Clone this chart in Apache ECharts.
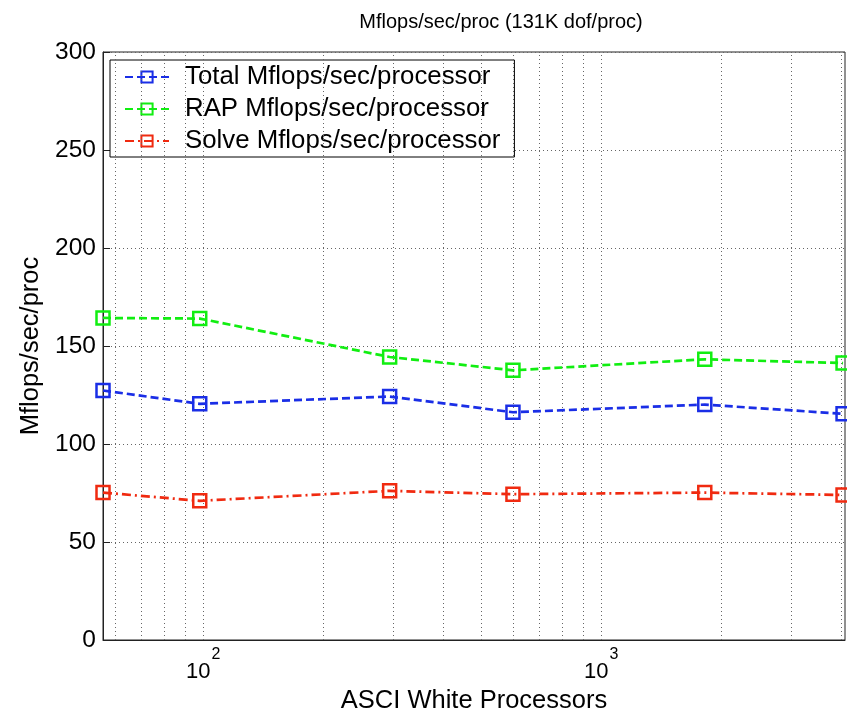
<!DOCTYPE html>
<html><head><meta charset="utf-8">
<script src="https://cdn.jsdelivr.net/npm/echarts@6/dist/echarts.min.js"></script>
<style>html,body{margin:0;padding:0;background:#fff}#c{width:847px;height:714px}</style>
</head><body><div id="c"></div>
<script>
const processors = [56, 98, 294, 600, 1820, 4050];
const totalMflops = [127.3, 120.5, 124.2, 116.2, 120.1, 115.4];
const rapMflops = [164.3, 164.0, 144.4, 137.6, 143.2, 141.3];
const solveMflops = [75.2, 71.0, 76.1, 74.4, 75.2, 74.0];
const seriesNames = ['Total Mflops/sec/processor', 'RAP Mflops/sec/processor', 'Solve Mflops/sec/processor'];
const xGridValues = [60, 70, 80, 90, 100, 200, 300, 400, 500, 600, 700, 800, 900, 1000, 2000, 3000, 4000];
const yTicks = [0, 50, 100, 150, 200, 250, 300];

const FONT = 'Liberation Sans';
const chart = echarts.init(document.getElementById('c'));
function mk(name, data, color, dash, withGrid) {
  const s = {
    name, type: 'line', data: processors.map((p, i) => [p, data[i]]),
    symbol: 'rect', symbolSize: 13, showSymbol: true,
    lineStyle: {color, width: 2.7, type: dash},
    itemStyle: {color: 'rgba(255,255,255,0)', borderColor: color, borderWidth: 2.5},
    emphasis: {disabled: true}, animation: false, z: 5
  };
  if (withGrid) {
    s.markLine = {
      silent: true, symbol: 'none', label: {show: false}, animation: false,
      lineStyle: {color: '#666', width: 1, type: [1, 3]},
      data: xGridValues.map(v => ({xAxis: v}))
    };
  }
  return s;
}
chart.setOption({
  animation: false,
  title: {text: 'Mflops/sec/proc (131K dof/proc)', left: 496, top: 7, textAlign: 'center',
    textStyle: {fontFamily: FONT, fontSize: 20, fontWeight: 'normal', color: '#000'}},
  grid: {left: 103, right: 2, top: 52, bottom: 74, show: true, borderColor: '#222', borderWidth: 1,
    outerBoundsMode: 'none', containLabel: false},
  legend: {
    orient: 'vertical', left: 110, top: 60, itemWidth: 44, itemHeight: 14, itemGap: 6,
    padding: [4, 14, 3, 14], backgroundColor: '#fff', borderColor: '#000', borderWidth: 1,
    textStyle: {fontFamily: FONT, fontSize: 25.8, lineHeight: 26, color: '#000', padding: [0, 0, 0, 11]},
    data: seriesNames
  },
  xAxis: {
    type: 'log', logBase: 10, min: 56, max: 4096,
    name: 'ASCI White Processors', nameLocation: 'middle', nameGap: 46,
    nameTextStyle: {fontFamily: FONT, fontSize: 25.5, color: '#000'},
    axisLine: {show: true, lineStyle: {color: '#222'}},
    axisTick: {show: false},
    splitLine: {show: false},
    axisLabel: {
      showMinLabel: false, showMaxLabel: false, margin: 7,
      formatter: v => {
        const e = Math.log10(v);
        if (Math.abs(e - Math.round(e)) < 1e-6) return '{b|10}{s|' + Math.round(e) + '}';
        return '';
      },
      rich: {b: {fontFamily: FONT, fontSize: 22, color: '#000', padding: [14, 0, 0, 0]},
             s: {fontFamily: FONT, fontSize: 16, color: '#000', verticalAlign: 'top', padding: [0, 0, 0, 1]}}
    }
  },
  yAxis: {
    type: 'value', min: yTicks[0], max: yTicks[yTicks.length - 1], interval: 50,
    name: 'Mflops/sec/proc', nameLocation: 'middle', nameGap: 57,
    nameTextStyle: {fontFamily: FONT, fontSize: 25.5, color: '#000'},
    axisLine: {show: true, lineStyle: {color: '#222'}},
    axisTick: {show: true, inside: true, length: 7, lineStyle: {color: '#222'}},
    axisLabel: {fontFamily: FONT, fontSize: 24.5, color: '#000', margin: 7},
    splitLine: {show: true, lineStyle: {color: '#666', width: 1, type: [1, 3]}}
  },
  series: [
    mk(seriesNames[0], totalMflops, '#1a2ee6', [8, 4], true),
    mk(seriesNames[1], rapMflops, '#11ee11', [8, 4], false),
    mk(seriesNames[2], solveMflops, '#f02a10', [9, 4, 2, 4], false)
  ]
});
</script></body></html>
